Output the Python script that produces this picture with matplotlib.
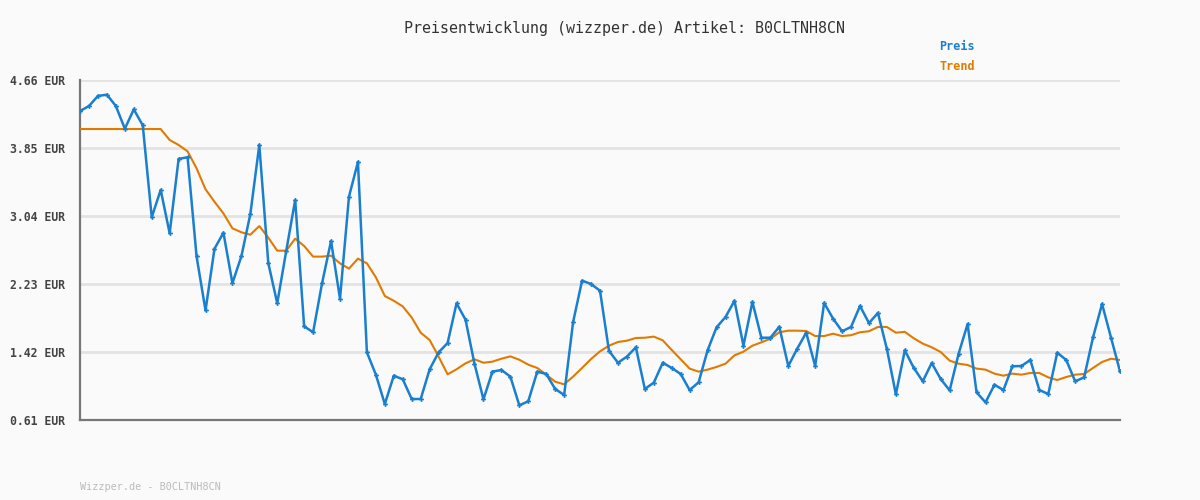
import numpy as np
import matplotlib
matplotlib.use("Agg")
import matplotlib.pyplot as plt

# Preis (blau)
preis = [
    4.29, 4.35, 4.47, 4.485, 4.35, 4.08, 4.31, 4.12, 3.025, 3.35,
    2.835, 3.72, 3.74, 2.56, 1.915, 2.65, 2.84, 2.24, 2.56, 3.064,
    3.886, 2.48, 2.0, 2.623, 3.23, 1.726, 1.655, 2.24, 2.742, 2.055,
    3.27, 3.683, 1.416, 1.15, 0.80, 1.138, 1.095, 0.86, 0.86, 1.214,
    1.416, 1.527, 2.0, 1.805, 1.28, 0.856, 1.186, 1.206, 1.127, 0.785,
    0.833, 1.186, 1.158, 0.98, 0.908, 1.777, 2.27, 2.23, 2.15, 1.435,
    1.292, 1.365, 1.476, 0.98, 1.055, 1.292, 1.23, 1.158, 0.967, 1.059,
    1.44, 1.714, 1.837, 2.03, 1.495, 2.016, 1.59, 1.59, 1.72, 1.253,
    1.46, 1.65, 1.253, 2.004, 1.817, 1.667, 1.718, 1.968, 1.765, 1.885,
    1.456, 0.916, 1.44, 1.23, 1.071, 1.289, 1.098, 0.963, 1.40, 1.753,
    0.94, 0.82, 1.03, 0.967, 1.25, 1.253, 1.325, 0.967, 0.92, 1.412,
    1.325, 1.071, 1.118, 1.599, 1.992, 1.59, 1.19,
]

# Trend (orange)
trend = [
    4.076, 4.076, 4.076, 4.076, 4.076, 4.076, 4.076, 4.076, 4.076, 4.076,
    3.945, 3.886, 3.81, 3.608, 3.358, 3.21, 3.07, 2.893, 2.846, 2.817,
    2.92, 2.782, 2.627, 2.627, 2.77, 2.683, 2.556, 2.556, 2.567, 2.476,
    2.413, 2.532, 2.476, 2.31, 2.087, 2.03, 1.963, 1.83, 1.65, 1.563,
    1.365, 1.154, 1.214, 1.285, 1.333, 1.292, 1.305, 1.34, 1.368, 1.328,
    1.269, 1.23, 1.15, 1.066, 1.035, 1.127, 1.23, 1.336, 1.428, 1.495,
    1.539, 1.555, 1.587, 1.59, 1.603, 1.559, 1.444, 1.333, 1.222, 1.186,
    1.21, 1.242, 1.281, 1.38, 1.424, 1.495, 1.535, 1.578, 1.655, 1.674,
    1.674, 1.67, 1.61, 1.61, 1.638, 1.61, 1.62, 1.655, 1.667, 1.718,
    1.718, 1.65, 1.66, 1.583, 1.52, 1.476, 1.42, 1.317, 1.281, 1.265,
    1.222, 1.21, 1.162, 1.138, 1.162, 1.15, 1.17, 1.17, 1.118, 1.086,
    1.122, 1.15, 1.158, 1.23, 1.301, 1.34, 1.325,
]

ticks = [0.61, 1.42, 2.23, 3.04, 3.85, 4.66]
tick_labels = ["0.61 EUR", "1.42 EUR", "2.23 EUR", "3.04 EUR", "3.85 EUR", "4.66 EUR"]

artikel = "B0CLTNH8CN"

BLUE = "#1a7fcf"
ORANGE = "#e07b00"
BG = "#fafafa"
MONO = "DejaVu Sans Mono"

x = np.arange(len(preis))

fig = plt.figure(figsize=(12, 5), dpi=100, facecolor=BG)
ax = fig.add_axes([80 / 1200, 80 / 500, 1040 / 1200, 340 / 500], facecolor=BG)

for t in ticks[1:]:
    ax.axhline(t, color="#e3e3e3", linewidth=2, zorder=1)

ax.plot(x, trend, color=ORANGE, linewidth=1.5, zorder=3)
ax.plot(x, preis, color=BLUE, linewidth=1.8, marker="P", markersize=3.5,
        markeredgewidth=0, zorder=4)

ax.set_xlim(0, len(preis) - 1)
ax.set_ylim(ticks[0], ticks[-1])
ax.set_xticks([])
ax.set_yticks(ticks)
ax.set_yticklabels(tick_labels, family=MONO, fontweight="bold", fontsize=8.3, color="#444444")
ax.tick_params(axis="y", length=0, pad=11)

for s in ["top", "right"]:
    ax.spines[s].set_visible(False)
for s in ["left", "bottom"]:
    ax.spines[s].set_color("#777777")
    ax.spines[s].set_linewidth(1.6)

fig.text(624 / 1200, 1 - 28 / 500, "Preisentwicklung (wizzper.de) Artikel: " + artikel,
         ha="center", va="center", family=MONO, fontsize=10.8, color="#333333")
fig.text(975 / 1200, 1 - 47 / 500, "Preis", ha="right", va="center",
         family=MONO, fontweight="bold", fontsize=8.5, color=BLUE)
fig.text(975 / 1200, 1 - 67 / 500, "Trend", ha="right", va="center",
         family=MONO, fontweight="bold", fontsize=8.5, color=ORANGE)
fig.text(80 / 1200, 1 - 487 / 500, "Wizzper.de - " + artikel, ha="left", va="center",
         family=MONO, fontsize=7.3, color="#bbbbbb")

fig.savefig("out.png", dpi=100, facecolor=BG)
